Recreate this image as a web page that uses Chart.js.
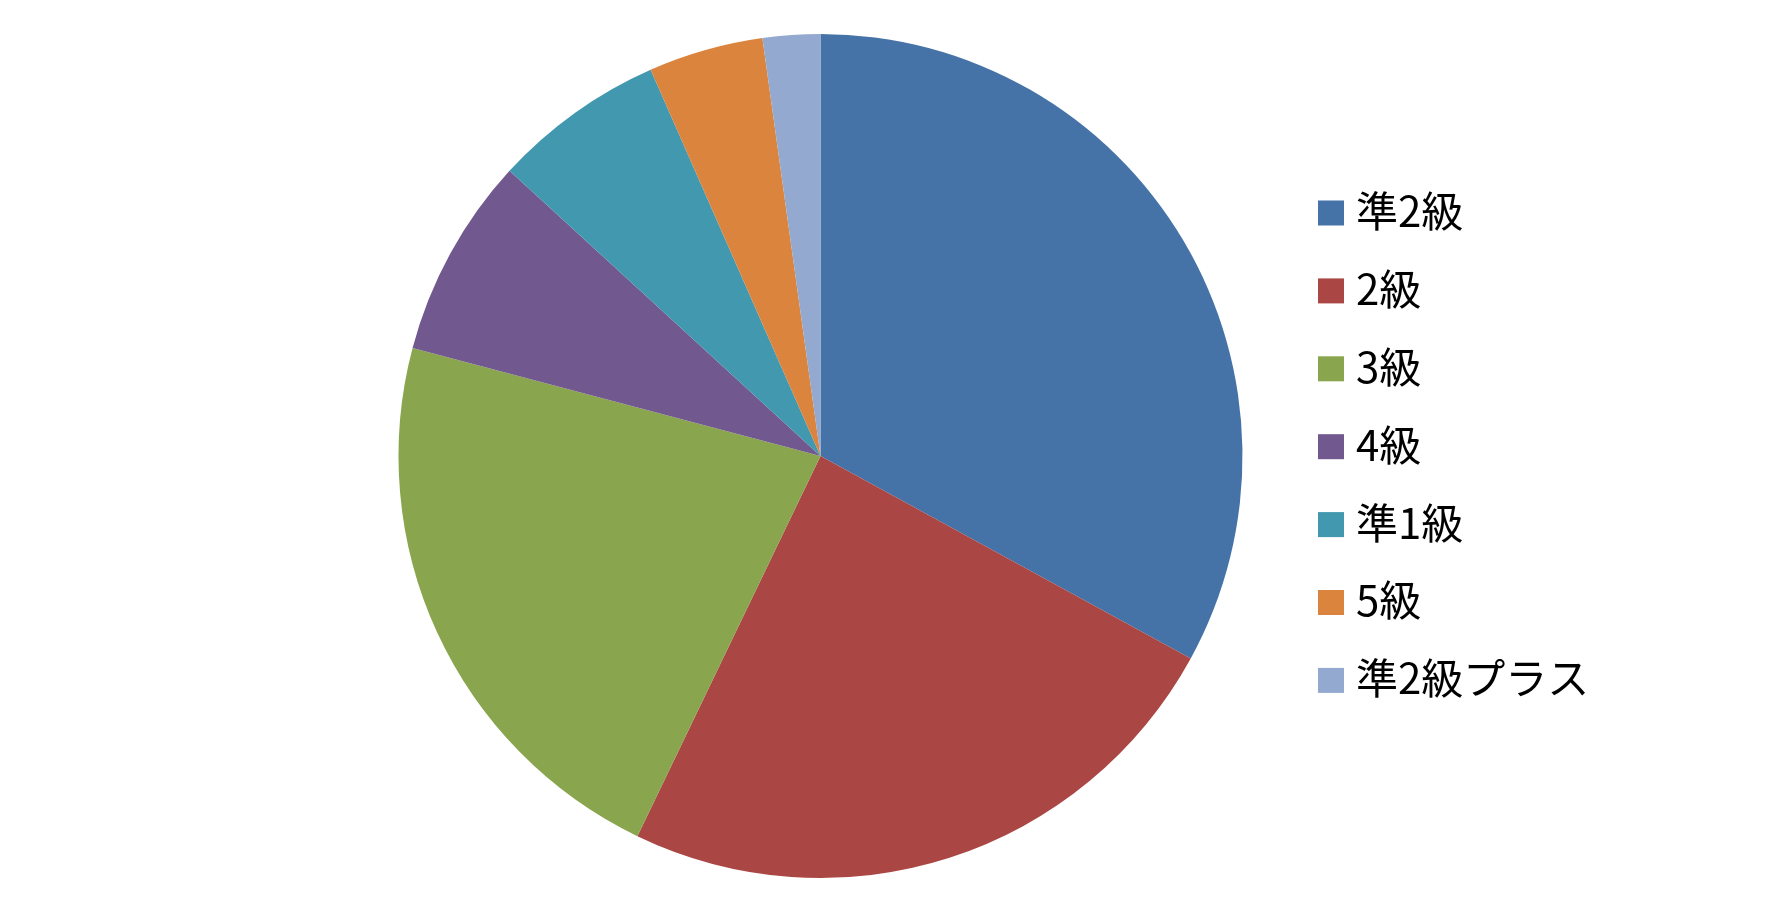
<!DOCTYPE html>
<html>
<head>
<meta charset="utf-8">
<script src="https://cdn.jsdelivr.net/npm/chart.js@4"></script>
<style>
  html, body { margin: 0; padding: 0; background: #fff; }
  #wrap { width: 1784px; height: 904px; }
</style>
</head>
<body>
<div id="wrap"><canvas id="myChart" width="1784" height="904"></canvas></div>
<script>
const labels = ['準2級', '2級', '3級', '4級', '準1級', '5級', '準2級プラス'];
const values = [33.0, 24.2, 22.0, 7.7, 6.6, 4.4, 2.2];
const colors = ['#4572A7', '#AA4643', '#89A54E', '#71588F', '#4198AF', '#DB843D', '#93A9CF'];

// legend drawn by hand so the box/text spacing matches
const sideLegend = {
  id: 'sideLegend',
  afterDraw(chart) {
    const ctx = chart.ctx;
    const x = 1318, y0 = 213, step = 77.9, box = 26;
    ctx.save();
    ctx.font = '42px "Noto Sans CJK JP", "Noto Sans", sans-serif';
    ctx.textBaseline = 'middle';
    ctx.textAlign = 'left';
    labels.forEach((label, i) => {
      const y = y0 + i * step;
      ctx.fillStyle = colors[i];
      ctx.fillRect(x, y - 12.5, box, 25);
      ctx.fillStyle = '#000';
      ctx.fillText(label, x + box + 12, y - 2);
    });
    ctx.restore();
  }
};

let ctx = document.getElementById('myChart').getContext('2d');
let myChart = new Chart(ctx, {
  type: 'pie',
  data: {
    labels: labels,
    datasets: [{
      data: values,
      backgroundColor: colors,
      borderWidth: 0
    }]
  },
  options: {
    responsive: false,
    animation: false,
    layout: {
      padding: { left: 0, right: 143, top: 34, bottom: 26 }
    },
    plugins: {
      legend: { display: false },
      tooltip: { enabled: false }
    }
  },
  plugins: [sideLegend]
});
</script>
</body>
</html>
